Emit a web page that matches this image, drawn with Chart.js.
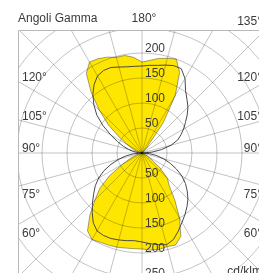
<!DOCTYPE html>
<html><head><meta charset="utf-8">
<script src="https://cdn.jsdelivr.net/npm/chart.js@4.4.1/dist/chart.umd.min.js"></script>
<style>
html,body{margin:0;padding:0;background:#fff;overflow:hidden;width:259px;height:273px;}
#c{position:absolute;left:-58px;top:-47px;}
</style></head><body>
<canvas id="c" width="400" height="400"></canvas>
<script>
// gamma angles (0 = down, 180 = up), every 5 degrees
const gammaAngles = [0,5,10,15,20,25,30,35,40,45,50,55,60,65,70,75,80,85,90,95,100,105,110,115,120,125,130,135,140,145,150,155,160,165,170,175,180];
// yellow filled curve (cd/klm), right half and left half of the diagram
const yellowRight = [192,195,196,194,196,184,150,114,84,72,48,25,12,5,2,0,0,0,0,0,0,0,0,0,0,0,2,6,18,74,133,178,200,196,192,186,182];
const yellowLeft  = [192,192,193,195,196,197,200,190,162,133,110,80,45,27,12,5,2,0,0,0,2,6,12,22,35,56,88,120,158,194,210,208,204,198,198,192,182];
// dark outline curve (cd/klm), right half and left half
const curveRight = [178,182,186,190,184,172,160,150,140,130,118,106,92,76,60,45,30,15,0,20,40,60,76,86,96,106,118,130,140,152,172,186,186,182,178,176,174];
const curveLeft  = [176,176,178,180,182,182,180,170,155,140,126,114,100,84,66,48,32,16,0,8,18,28,40,54,72,95,118,136,153,167,178,182,182,178,175,174,174];
// tick labels
const radialTicks = [50,100,150,200,250];
const sideAngles = [120,105,90,75,60];
const sideLabels = ['120°','105°','90°','75°','60°'];
const titleText = 'Angoli Gamma';
const topLabel = '180°';
const topRightLabel = '135°';
const unitLabel = 'cd/klm';

// screen angle: 0 = top, clockwise
const screenAngles = [];
for (let a = 0; a < 360; a += 5) screenAngles.push(a);
function fullCircle(right, left) {
  return screenAngles.map(a => a <= 180
    ? right[gammaAngles.indexOf(180 - a)]
    : left[gammaAngles.indexOf(a - 180)]);
}

const FONT = '12px "Liberation Sans", Arial, sans-serif';
const TXT = '#3a3a3a';
const GRID = 'rgba(0,0,0,0.24)';

const frame = {
  id: 'frame',
  beforeDraw(chart) {
    const s = chart.scales.r, ctx = chart.ctx;
    ctx.save();
    ctx.beginPath();
    ctx.rect(s.xCenter - 124, s.yCenter - 123, 248, 400);
    ctx.clip();
  },
  afterDraw(chart) {
    const s = chart.scales.r, ctx = chart.ctx;
    const cx = s.xCenter, cy = s.yCenter;
    ctx.font = FONT;
    ctx.fillStyle = TXT;
    ctx.textBaseline = 'alphabetic';
    ctx.textAlign = 'left';
    radialTicks.forEach(v => {
      const r = s.getDistanceFromCenterForValue(v);
      ctx.fillText(String(v), cx + 3, cy - r - 1);
      ctx.fillText(String(v), cx + 3, cy + r - 1);
    });
    sideAngles.forEach((g, i) => {
      const rad = g * Math.PI / 180;
      const y = cy + 124 * Math.cos(rad) / Math.sin(rad) + (g < 90 ? 12 : (g === 90 ? -1 : 0));
      ctx.textAlign = 'left';
      ctx.fillText(sideLabels[i], cx - 120, y);
      ctx.textAlign = 'right';
      ctx.fillText(sideLabels[i], cx + 120, y);
    });
    ctx.textAlign = 'right';
    ctx.fillText(unitLabel, cx + 120, cy + 122);
    ctx.restore();

    ctx.save();
    ctx.strokeStyle = '#b8b8b8';
    ctx.lineWidth = 1;
    ctx.beginPath();
    ctx.moveTo(cx - 124 + 0.5, cy + 200);
    ctx.lineTo(cx - 124 + 0.5, cy - 123 + 0.5);
    ctx.lineTo(cx + 124 - 0.5, cy - 123 + 0.5);
    ctx.lineTo(cx + 124 - 0.5, cy + 200);
    ctx.stroke();
    ctx.font = FONT;
    ctx.fillStyle = TXT;
    ctx.textBaseline = 'alphabetic';
    ctx.textAlign = 'left';
    ctx.fillText(titleText, cx - 124, cy - 131);
    ctx.textAlign = 'center';
    ctx.fillText(topLabel, cx + 2, cy - 131);
    ctx.textAlign = 'right';
    ctx.fillText(topRightLabel, cx + 120, cy - 128);
    ctx.restore();
  }
};

new Chart(document.getElementById('c'), {
  type: 'radar',
  data: {
    labels: screenAngles.map(String),
    datasets: [
      { label: 'C90-270', data: fullCircle(curveRight, curveLeft), borderColor: '#4a4a4a', borderWidth: 1, fill: false, pointRadius: 0 },
      { label: 'C0-180', data: fullCircle(yellowRight, yellowLeft), borderColor: 'rgba(70,70,70,0.5)', borderWidth: 1, backgroundColor: '#ffe600', fill: true, pointRadius: 0 }
    ]
  },
  options: {
    responsive: false,
    animation: false,
    devicePixelRatio: 1,
    layout: { padding: 0 },
    plugins: { legend: { display: false }, tooltip: { enabled: false } },
    elements: { line: { tension: 0 }, point: { radius: 0 } },
    scales: {
      r: {
        min: 0, max: 400, startAngle: 0,
        ticks: { display: false, stepSize: 50 },
        pointLabels: { display: false },
        grid: { circular: true, color: GRID, lineWidth: 1, z: 1 },
        angleLines: { display: true, lineWidth: 1, color: (c) => c.index % 3 === 0 ? GRID : 'rgba(0,0,0,0)' }
      }
    }
  },
  plugins: [frame]
});
</script>
</body></html>
